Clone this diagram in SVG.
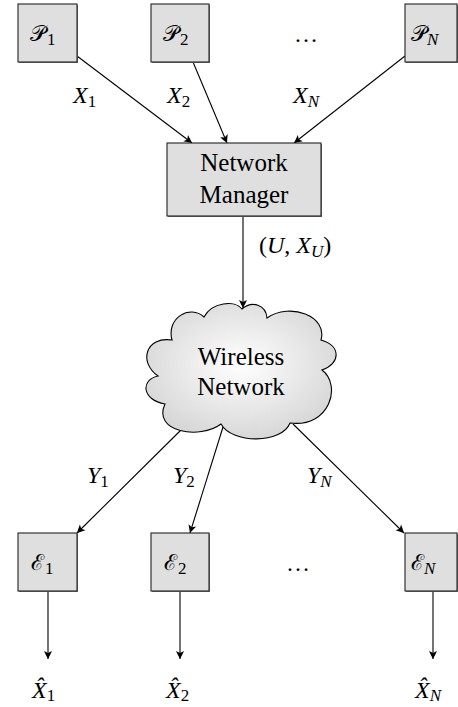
<svg xmlns="http://www.w3.org/2000/svg" width="458" height="707" viewBox="0 0 458 707">
<style>
.box{fill:#dfdfdf;stroke:#222;stroke-width:1.1}
.shadow{fill:#777}
.edge{stroke:#000;stroke-width:1.1;fill:none;marker-end:url(#arr)}
text{font-family:'Liberation Serif','Times New Roman',serif;font-size:24px;fill:#000}
.big{font-size:25px}
.it{font-style:italic}
.up{font-style:normal}
.cal{font-family:'DejaVu Serif',serif;font-size:22px}
.sub{font-size:17px;font-family:'Liberation Serif','Times New Roman',serif}
</style>
<defs>
<marker id="arr" markerUnits="userSpaceOnUse" markerWidth="12" markerHeight="12" viewBox="-10 -6 12 12" refX="0" refY="0" orient="auto">
<path d="M0 0 C -2 -1 -5 -2.6 -8 -4 L -6 0 L -8 4 C -5 2.6 -2 1 0 0 Z" fill="#000"/>
</marker>
<radialGradient id="cg" cx="0.5" cy="0.45" r="0.6">
<stop offset="0" stop-color="#ffffff"/>
<stop offset="1" stop-color="#d4d4d4"/>
</radialGradient>
</defs>

<g id="connectors">
<line class="edge" x1="77" y1="56" x2="192" y2="143"/>
<line class="edge" x1="193" y1="62" x2="227" y2="143"/>
<line class="edge" x1="405" y1="56" x2="294" y2="143"/>
<line class="edge" x1="243" y1="216" x2="243" y2="308"/>
<line class="edge" x1="182" y1="429" x2="77" y2="533"/>
<line class="edge" x1="223" y1="427" x2="190" y2="533"/>
<line class="edge" x1="293" y1="424" x2="404" y2="533"/>
<line class="edge" x1="48" y1="591" x2="48" y2="659"/>
<line class="edge" x1="180" y1="591" x2="180" y2="659"/>
<line class="edge" x1="433" y1="591" x2="433" y2="659"/>
</g>

<g id="P1">
<rect class="shadow" x="19" y="5" width="59" height="58"/>
<rect class="box" x="18" y="4" width="59" height="58"/>
<text class="cal" x="30" y="41">𝒫<tspan class="sub up" dx="1" dy="4">1</tspan></text>
</g>
<g id="P2">
<rect class="shadow" x="152" y="5" width="58" height="58"/>
<rect class="box" x="151" y="4" width="58" height="58"/>
<text class="cal" x="163" y="41">𝒫<tspan class="sub up" dx="1" dy="4">2</tspan></text>
</g>
<g id="PN">
<rect class="shadow" x="406" y="5" width="52" height="58"/>
<rect class="box" x="405" y="4" width="52" height="58"/>
<text class="cal" x="411" y="41">𝒫<tspan class="sub it" dy="4">N</tspan></text>
</g>
<g id="dots-top">
<text x="306" y="42" text-anchor="middle">…</text>
</g>

<g id="NM">
<rect class="shadow" x="168" y="144" width="154" height="73"/>
<rect class="box" x="167" y="143" width="154" height="73"/>
<text class="big" x="244" y="171" text-anchor="middle">Network</text>
<text class="big" x="244" y="203" text-anchor="middle">Manager</text>
</g>

<g id="cloud">
<path d="M242 309 C 252 300 266 305 267 318 C 290 302 328 316 321 340 C 342 346 340 364 322 370 C 342 385 330 428 290 423 C 282 444 232 444 221 424 C 200 440 152 432 165 404 C 142 400 140 380 158 376 C 138 362 146 336 172 340 C 166 318 190 304 204 317 C 212 302 235 300 242 309 Z" fill="url(#cg)" stroke="#000" stroke-width="1.1"/>
<text class="big" x="241" y="365" text-anchor="middle">Wireless</text>
<text class="big" x="241" y="395" text-anchor="middle">Network</text>
</g>

<g id="E1">
<rect class="shadow" x="19" y="534" width="59" height="58"/>
<rect class="box" x="18" y="533" width="59" height="58"/>
<text class="cal" x="31" y="570">ℰ<tspan class="sub up" dx="1" dy="4">1</tspan></text>
</g>
<g id="E2">
<rect class="shadow" x="152" y="534" width="58" height="58"/>
<rect class="box" x="151" y="533" width="58" height="58"/>
<text class="cal" x="164" y="570">ℰ<tspan class="sub up" dx="1" dy="4">2</tspan></text>
</g>
<g id="EN">
<rect class="shadow" x="406" y="534" width="52" height="58"/>
<rect class="box" x="405" y="533" width="52" height="58"/>
<text class="cal" x="411" y="570">ℰ<tspan class="sub it" dy="4">N</tspan></text>
</g>
<g id="dots-bottom">
<text x="298" y="571" text-anchor="middle">…</text>
</g>

<g id="labels">
<text class="it" x="73" y="103">X<tspan class="sub up" dy="4">1</tspan></text>
<text class="it" x="167" y="103">X<tspan class="sub up" dy="4">2</tspan></text>
<text class="it" x="293" y="103">X<tspan class="sub" dy="4">N</tspan></text>
<text x="259" y="253">(<tspan class="it">U</tspan>, <tspan class="it">X</tspan><tspan class="sub it" dy="4">U</tspan><tspan dy="-4">)</tspan></text>
<text class="it" x="87" y="483">Y<tspan class="sub up" dy="4">1</tspan></text>
<text class="it" x="173" y="483">Y<tspan class="sub up" dy="4">2</tspan></text>
<text class="it" x="307" y="483">Y<tspan class="sub" dy="4">N</tspan></text>
<text class="it" x="32" y="698">X̂<tspan class="sub up" dy="3">1</tspan></text>
<text class="it" x="166" y="698">X̂<tspan class="sub up" dy="3">2</tspan></text>
<text class="it" x="415" y="698">X̂<tspan class="sub" dy="3">N</tspan></text>
</g>
</svg>
